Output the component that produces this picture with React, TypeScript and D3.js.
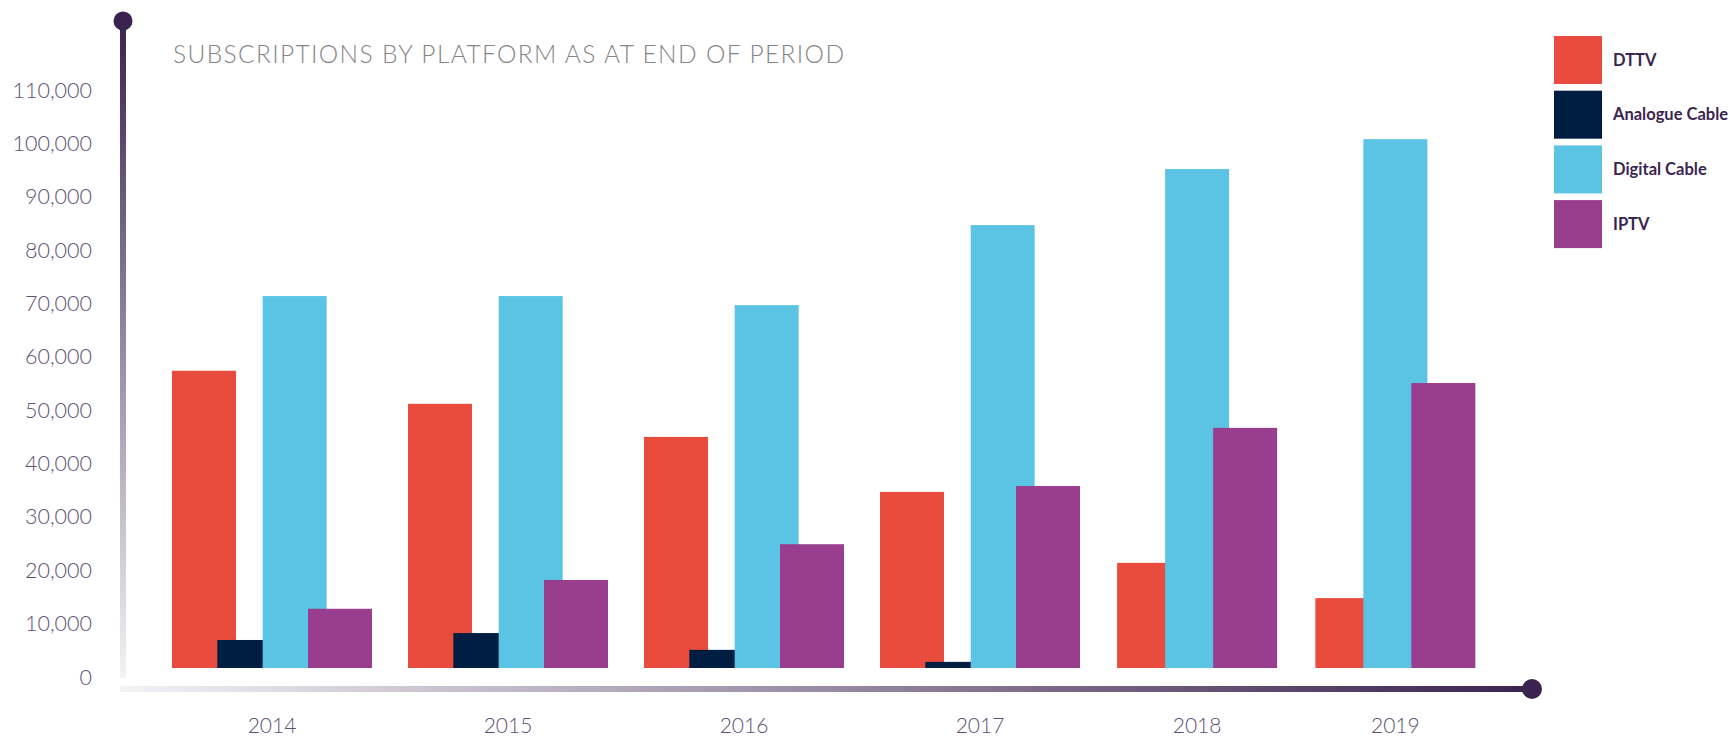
import { useEffect, useRef } from "react";
import * as d3 from "d3";

// Period labels and approximate period-end positions (in years)
const years = ["2014", "2015", "2016", "2017", "2018", "2019"];
const periodPos = [2014, 2015, 2016, 2017, 2017.92, 2018.76];

const seriesNames = ["DTTV", "Analogue Cable", "Digital Cable", "IPTV"];
const seriesColors = ["#e94b3c", "#001e41", "#5bc3e3", "#993d8e"];

const dttv = [55700, 49500, 43300, 33000, 19700, 13100];
const analogueCable = [5250, 6550, 3400, 1150, null, null];
const digitalCable = [69700, 69700, 68000, 83000, 93500, 99100];
const iptv = [11100, 16500, 23200, 34100, 45000, 53400];

const yTicks = [0, 10000, 20000, 30000, 40000, 50000, 60000, 70000, 80000, 90000, 100000, 110000];

const WIDTH = 1732;
const HEIGHT = 739;

export default function App() {
  const svgRef = useRef<SVGSVGElement>(null);

  useEffect(() => {
    if (!svgRef.current) return;
    const svg = d3.select(svgRef.current);
    svg.selectAll("*").remove();

    const values = [dttv, analogueCable, digitalCable, iptv];

    const y = d3.scaleLinear().domain([0, 110000]).range([668, 81]);
    const x = d3.scaleLinear().domain([2014, 2017]).range([272, 980]);

    const barWidth = 64;
    const axisX = 123;
    const axisY = 689;
    const axisEnd = 1532;

    const defs = svg.append("defs");
    const vGrad = defs
      .append("linearGradient")
      .attr("id", "vgrad")
      .attr("x1", 0)
      .attr("y1", 0)
      .attr("x2", 0)
      .attr("y2", 1);
    vGrad.append("stop").attr("offset", "0%").attr("stop-color", "#3b2350");
    vGrad.append("stop").attr("offset", "100%").attr("stop-color", "#f3f2f5");

    const hGrad = defs
      .append("linearGradient")
      .attr("id", "hgrad")
      .attr("x1", 0)
      .attr("y1", 0)
      .attr("x2", 1)
      .attr("y2", 0);
    hGrad.append("stop").attr("offset", "0%").attr("stop-color", "#f3f2f5");
    hGrad.append("stop").attr("offset", "100%").attr("stop-color", "#3b2350");

    // Title
    svg
      .append("text")
      .attr("x", 173)
      .attr("y", 63)
      .attr("font-family", "Lato, 'Open Sans', sans-serif")
      .attr("font-weight", 300)
      .attr("font-size", 24.5)
      .attr("fill", "#858585")
      .attr("textLength", 671)
      .attr("lengthAdjust", "spacing")
      .text("SUBSCRIPTIONS BY PLATFORM AS AT END OF PERIOD");

    // Bars: series drawn in order, later series over earlier ones
    const groupLayout = years.map((_, i) => {
      const present = seriesNames.filter((_, s) => values[s][i] != null);
      const span = 40 * (present.length + 1);
      const inner = d3
        .scalePoint<string>()
        .domain(present)
        .range([-(span - barWidth) / 2, (span - barWidth) / 2]);
      return { center: x(periodPos[i]), inner };
    });

    const barsGroup = svg.append("g");
    seriesNames.forEach((name, s) => {
      barsGroup
        .append("g")
        .selectAll("rect")
        .data(values[s].map((v, i) => ({ v, i })).filter((d) => d.v != null))
        .join("rect")
        .attr("x", (d) => groupLayout[d.i].center + (groupLayout[d.i].inner(name) ?? 0) - barWidth / 2)
        .attr("y", (d) => y(d.v as number))
        .attr("width", barWidth)
        .attr("height", (d) => y(0) - y(d.v as number))
        .attr("fill", seriesColors[s]);
    });

    // Y axis line with end dot
    svg
      .append("rect")
      .attr("x", axisX - 3)
      .attr("y", 22)
      .attr("width", 6)
      .attr("height", 678 - 22)
      .attr("fill", "url(#vgrad)");
    svg
      .append("circle")
      .attr("cx", axisX)
      .attr("cy", 21)
      .attr("r", 9.5)
      .attr("fill", "#3b2350");

    // X axis line with end dot
    svg
      .append("rect")
      .attr("x", 120)
      .attr("y", axisY - 3)
      .attr("width", axisEnd - 120)
      .attr("height", 6)
      .attr("fill", "url(#hgrad)");
    svg
      .append("circle")
      .attr("cx", axisEnd)
      .attr("cy", axisY)
      .attr("r", 10)
      .attr("fill", "#3b2350");

    // Y tick labels
    const fmt = d3.format(",");
    svg
      .append("g")
      .selectAll("text")
      .data(yTicks)
      .join("text")
      .attr("x", 92)
      .attr("y", (d) => y(d) + 16.5)
      .attr("text-anchor", "end")
      .attr("font-family", "Lato, 'Open Sans', sans-serif")
      .attr("font-weight", 300)
      .attr("font-size", 21.5)
      .attr("fill", "#5e5073")
      .text((d) => fmt(d));

    // X tick labels
    svg
      .append("g")
      .selectAll("text")
      .data(years)
      .join("text")
      .attr("x", (_, i) => x(periodPos[i]))
      .attr("y", 733)
      .attr("text-anchor", "middle")
      .attr("font-family", "Lato, 'Open Sans', sans-serif")
      .attr("font-weight", 300)
      .attr("font-size", 21)
      .attr("fill", "#5e5073")
      .text((d) => d);

    // Legend
    const legend = svg.append("g").attr("transform", "translate(1554, 36)");
    const items = legend
      .selectAll("g")
      .data(seriesNames)
      .join("g")
      .attr("transform", (_, i) => `translate(0, ${i * 54.7})`);
    items
      .append("rect")
      .attr("width", 48)
      .attr("height", 48)
      .attr("fill", (_, i) => seriesColors[i]);
    items
      .append("text")
      .attr("x", 59)
      .attr("y", 24)
      .attr("dy", "0.35em")
      .attr("font-family", "Lato, 'Open Sans', sans-serif")
      .attr("font-weight", 700)
      .attr("font-size", 16.5)
      .attr("fill", "#3b2550")
      .text((d) => d);
  }, []);

  return (
    <div style={{ position: "absolute", left: 0, top: 0 }}>
      <svg ref={svgRef} width={WIDTH} height={HEIGHT} viewBox={`0 0 ${WIDTH} ${HEIGHT}`} />
    </div>
  );
}
